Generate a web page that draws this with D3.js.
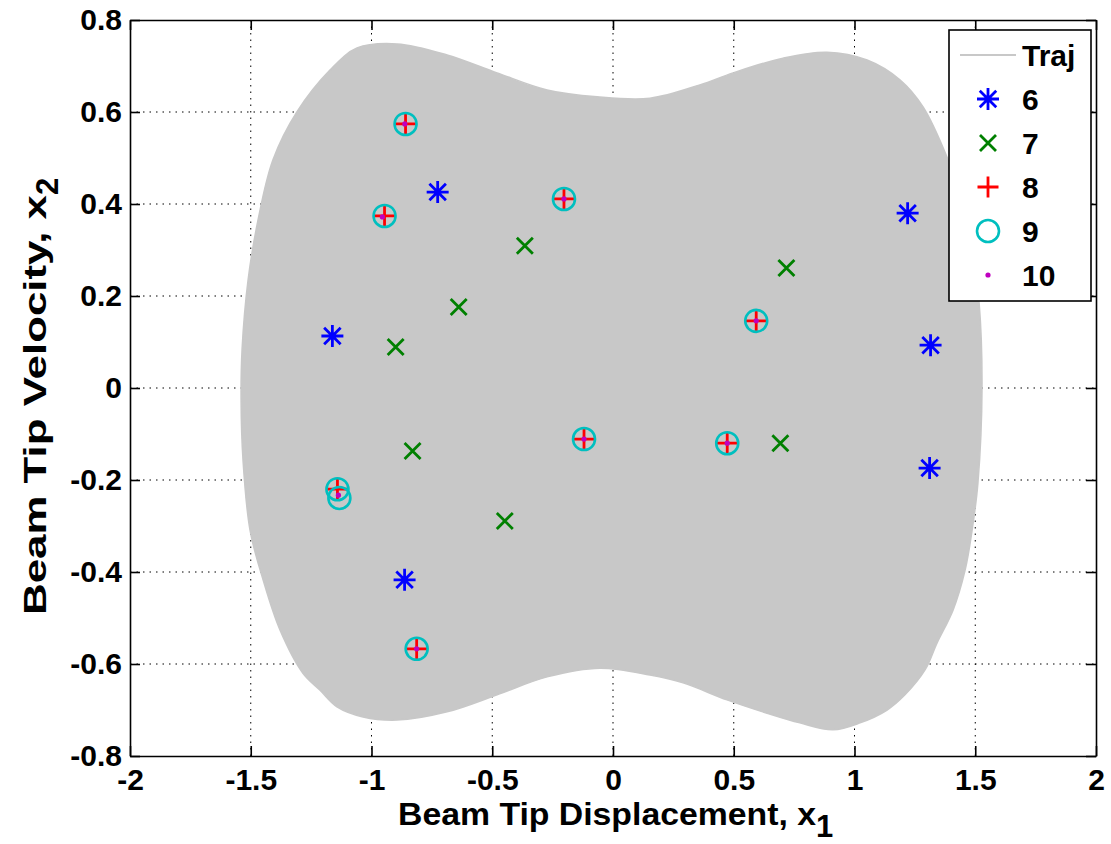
<!DOCTYPE html>
<html>
<head>
<meta charset="utf-8">
<script src="https://cdn.jsdelivr.net/npm/d3@7"></script>
<style>
  html, body { margin: 0; padding: 0; background: #fff; }
  svg { display: block; font-family: "Liberation Sans", Arial, sans-serif; }
  .tick text { font-weight: bold; font-size: 30px; fill: #000; }
  .axis-label { font-weight: bold; font-size: 31px; fill: #000; }
  .legend text { font-weight: bold; font-size: 30px; fill: #000; }
</style>
</head>
<body>
<div id="chart"></div>
<script>
// ── Data ─────────────────────────────────────────────────────────────────
const xTicks = [-2, -1.5, -1, -0.5, 0, 0.5, 1, 1.5, 2];
const xTickLabels = ["-2", "-1.5", "-1", "-0.5", "0", "0.5", "1", "1.5", "2"];
const yTicks = [-0.8, -0.6, -0.4, -0.2, 0, 0.2, 0.4, 0.6, 0.8];
const yTickLabels = ["-0.8", "-0.6", "-0.4", "-0.2", "0", "0.2", "0.4", "0.6", "0.8"];

// outline of the (densely filled) trajectory, clockwise
const trajOutline = [
  [-1.540, -0.026], [-1.536, 0.083], [-1.511, 0.235], [-1.470, 0.365],
  [-1.408, 0.496], [-1.309, 0.600], [-1.172, 0.691], [-1.060, 0.739],
  [-0.894, 0.748], [-0.687, 0.724], [-0.480, 0.685], [-0.273, 0.648],
  [-0.066, 0.633], [0.153, 0.630], [0.360, 0.659], [0.497, 0.685],
  [0.704, 0.717], [0.886, 0.730], [1.052, 0.713], [1.188, 0.670],
  [1.284, 0.611], [1.383, 0.502], [1.445, 0.409], [1.487, 0.300],
  [1.516, 0.185], [1.528, 0.000], [1.511, -0.207], [1.487, -0.309],
  [1.458, -0.396], [1.408, -0.483], [1.342, -0.554], [1.292, -0.613],
  [1.209, -0.667], [1.135, -0.700], [1.023, -0.728], [0.911, -0.743],
  [0.774, -0.728], [0.638, -0.707], [0.472, -0.678], [0.290, -0.641],
  [0.153, -0.624], [-0.054, -0.609], [-0.273, -0.628], [-0.480, -0.667],
  [-0.687, -0.704], [-0.894, -0.722], [-1.035, -0.715], [-1.143, -0.693],
  [-1.213, -0.657], [-1.284, -0.620], [-1.379, -0.526], [-1.449, -0.417],
  [-1.503, -0.309], [-1.532, -0.157],
];

const pts6 = [
  [-0.726, 0.426], [-1.162, 0.113], [-0.863, -0.417],
  [1.220, 0.380], [1.315, 0.093], [1.311, -0.174],
];
const pts7 = [
  [-0.365, 0.309], [-0.639, 0.176], [-0.900, 0.089], [-0.830, -0.137],
  [-0.448, -0.289], [0.718, 0.261], [0.693, -0.120],
];
const pts8 = [
  [-0.859, 0.574], [-0.946, 0.374], [-0.203, 0.411], [0.593, 0.146],
  [-0.120, -0.111], [0.473, -0.120], [-0.813, -0.567], [-1.141, -0.220],
];
const pts9 = [
  [-0.859, 0.574], [-0.946, 0.374], [-0.203, 0.411], [0.593, 0.146],
  [-0.120, -0.111], [0.473, -0.120], [-0.813, -0.567], [-1.141, -0.220],
  [-1.133, -0.239],
];
const pts10 = [
  [-0.862, 0.574], [-0.955, 0.372], [-0.203, 0.411], [0.593, 0.146],
  [-0.120, -0.111], [0.473, -0.120], [-0.813, -0.567], [-1.137, -0.233],
];

const legendLabels = ["Traj", "6", "7", "8", "9", "10"];

// ── Layout ───────────────────────────────────────────────────────────────
const W = 1111, H = 844;
const plot = { left: 130, right: 1096, top: 20, bottom: 756 };

const svg = d3.select("#chart").append("svg")
  .attr("width", W).attr("height", H);

const x = d3.scaleLinear().domain([-2, 2]).range([plot.left, plot.right]);
const y = d3.scaleLinear().domain([-0.8, 0.8]).range([plot.bottom, plot.top]);

const colors = {
  traj: "#c8c8c8",
  s6: "#0000ff",
  s7: "#008000",
  s8: "#ff0000",
  s9: "#00bfbf",
  s10: "#bf00bf",
};

// ── Grid ─────────────────────────────────────────────────────────────────
const grid = svg.append("g").attr("class", "grid");
grid.selectAll("line.gx").data(xTicks.slice(1, -1)).join("line")
  .attr("x1", d => x(d)).attr("x2", d => x(d))
  .attr("y1", plot.top).attr("y2", plot.bottom)
  .attr("stroke", "#000").attr("stroke-width", 1)
  .attr("stroke-dasharray", "1.5,5");
grid.selectAll("line.gy").data(yTicks.slice(1, -1)).join("line")
  .attr("y1", d => y(d)).attr("y2", d => y(d))
  .attr("x1", plot.left).attr("x2", plot.right)
  .attr("stroke", "#000").attr("stroke-width", 1)
  .attr("stroke-dasharray", "1.5,5");

// ── Trajectory ───────────────────────────────────────────────────────────
const area = d3.line()
  .x(d => x(d[0])).y(d => y(d[1]))
  .curve(d3.curveCatmullRomClosed);

svg.append("path")
  .datum(trajOutline)
  .attr("d", area)
  .attr("fill", colors.traj)
  .attr("stroke", colors.traj)
  .attr("stroke-width", 1.5);

// ── Marker drawers ───────────────────────────────────────────────────────
function drawStar(g, cx, cy, r, color) {
  const d = r * 0.75;
  const p = `M${cx - r},${cy}L${cx + r},${cy}M${cx},${cy - r}L${cx},${cy + r}` +
    `M${cx - d},${cy - d}L${cx + d},${cy + d}M${cx - d},${cy + d}L${cx + d},${cy - d}`;
  g.append("path").attr("d", p).attr("stroke", color).attr("stroke-width", 2.8).attr("fill", "none");
}
function drawX(g, cx, cy, r, color) {
  const p = `M${cx - r},${cy - r}L${cx + r},${cy + r}M${cx - r},${cy + r}L${cx + r},${cy - r}`;
  g.append("path").attr("d", p).attr("stroke", color).attr("stroke-width", 2.8).attr("fill", "none");
}
function drawPlus(g, cx, cy, r, color) {
  const p = `M${cx - r},${cy}L${cx + r},${cy}M${cx},${cy - r}L${cx},${cy + r}`;
  g.append("path").attr("d", p).attr("stroke", color).attr("stroke-width", 2.8).attr("fill", "none");
}
function drawCircle(g, cx, cy, r, color) {
  g.append("circle").attr("cx", cx).attr("cy", cy).attr("r", r)
    .attr("fill", "none").attr("stroke", color).attr("stroke-width", 2.6);
}
function drawDot(g, cx, cy, r, color) {
  g.append("circle").attr("cx", cx).attr("cy", cy).attr("r", r).attr("fill", color);
}

const series = [
  { pts: pts6, draw: drawStar, size: 11, color: colors.s6 },
  { pts: pts7, draw: drawX, size: 8, color: colors.s7 },
  { pts: pts8, draw: drawPlus, size: 10.5, color: colors.s8 },
  { pts: pts9, draw: drawCircle, size: 11, color: colors.s9 },
  { pts: pts10, draw: drawDot, size: 2.6, color: colors.s10 },
];

const marks = svg.append("g").attr("class", "marks");
series.forEach(s => {
  s.pts.forEach(p => s.draw(marks, x(p[0]), y(p[1]), s.size, s.color));
});

// ── Axes (box with inward ticks) ─────────────────────────────────────────
const fmtX = d => xTickLabels[xTicks.indexOf(d)];
const fmtY = d => yTickLabels[yTicks.indexOf(d)];

function styleAxis(sel) {
  sel.select(".domain").attr("stroke", "#000").attr("stroke-width", 1.6);
  sel.selectAll(".tick line").attr("stroke", "#000").attr("stroke-width", 1.6);
}

svg.append("g").attr("transform", `translate(0,${plot.bottom})`)
  .call(d3.axisBottom(x).tickValues(xTicks).tickFormat(fmtX)
    .tickSizeInner(-10).tickSizeOuter(0).tickPadding(13))
  .call(styleAxis);

svg.append("g").attr("transform", `translate(0,${plot.top})`)
  .call(d3.axisTop(x).tickValues(xTicks).tickFormat("")
    .tickSizeInner(-10).tickSizeOuter(0))
  .call(styleAxis);

svg.append("g").attr("transform", `translate(${plot.left},0)`)
  .call(d3.axisLeft(y).tickValues(yTicks).tickFormat(fmtY)
    .tickSizeInner(-10).tickSizeOuter(0).tickPadding(8))
  .call(styleAxis);

svg.append("g").attr("transform", `translate(${plot.right},0)`)
  .call(d3.axisRight(y).tickValues(yTicks).tickFormat("")
    .tickSizeInner(-10).tickSizeOuter(0))
  .call(styleAxis);

// ── Axis labels ──────────────────────────────────────────────────────────
const xl = svg.append("text")
  .attr("class", "axis-label")
  .attr("x", 398)
  .attr("y", 825);
xl.append("tspan")
  .attr("textLength", 418).attr("lengthAdjust", "spacingAndGlyphs")
  .text("Beam Tip Displacement, x");
xl.append("tspan").attr("dy", 12).text("1");

const yl = svg.append("text")
  .attr("class", "axis-label")
  .attr("transform", `translate(46,615) rotate(-90)`);
yl.append("tspan")
  .attr("textLength", 420).attr("lengthAdjust", "spacingAndGlyphs")
  .text("Beam Tip Velocity, x");
yl.append("tspan").attr("dy", 12).text("2");

// ── Legend ───────────────────────────────────────────────────────────────
const lg = svg.append("g").attr("class", "legend");
lg.append("rect")
  .attr("x", 949).attr("y", 30).attr("width", 142).attr("height", 271)
  .attr("fill", "#fff").attr("stroke", "#000").attr("stroke-width", 1.6);

const rowY = i => 55 + i * 44;
const markX = 988;

lg.append("line")
  .attr("x1", 960).attr("x2", 1016)
  .attr("y1", rowY(0)).attr("y2", rowY(0))
  .attr("stroke", colors.traj).attr("stroke-width", 2);

series.forEach((s, i) => s.draw(lg, markX, rowY(i + 1), s.size, s.color));

lg.selectAll("text").data(legendLabels).join("text")
  .attr("x", 1022)
  .attr("y", (d, i) => rowY(i) + 11)
  .text(d => d);
</script>
</body>
</html>
